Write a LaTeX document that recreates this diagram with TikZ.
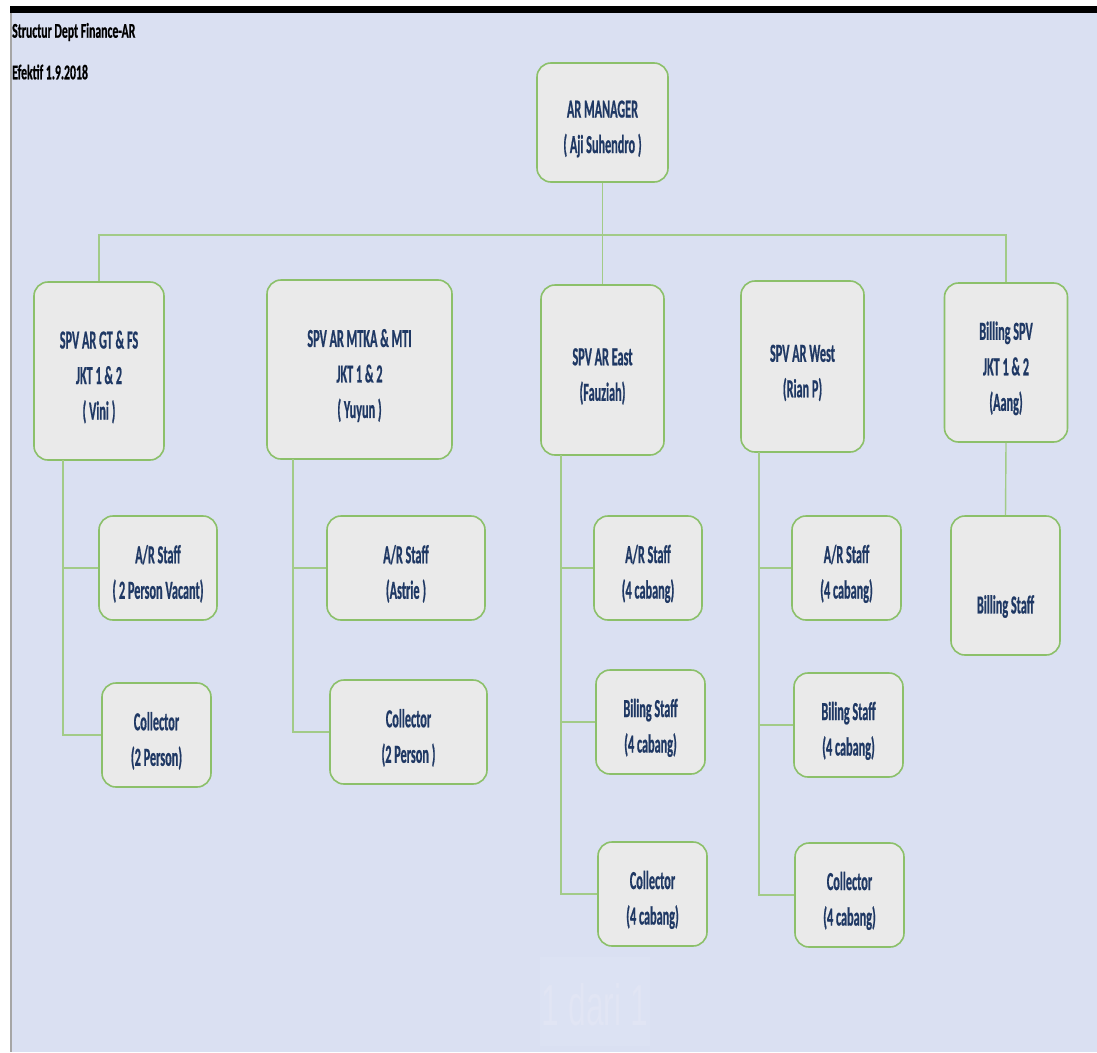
\documentclass[tikz,border=0pt]{standalone}
\usepackage{fontspec}
\newfontfamily\boxfont[FakeStretch=0.47, FakeBold=0.6]{Carlito}
\newfontfamily\titlefont[FakeStretch=0.56, FakeBold=0.6]{Carlito}
\newfontfamily\wmfont[FakeStretch=0.55]{Liberation Sans}
\newcommand\toppad{\rule{0pt}{30pt}}
\definecolor{bgblue}{HTML}{DAE0F2}
\definecolor{boxfill}{HTML}{EAEAEA}
\definecolor{boxedge}{HTML}{8CC06A}
\definecolor{linegreen}{HTML}{A2CB88}
\definecolor{navy}{HTML}{1F3864}
\definecolor{wmbox}{HTML}{DCE2F3}
\definecolor{wmtext}{HTML}{E1E5F4}
\tikzset{
  orgbox/.style={draw=boxedge, line width=1.6pt, fill=boxfill, rounded corners=14pt,
    inner sep=0pt, align=center, text=navy,
    font=\boxfont\bfseries\fontsize{26}{35.5}\selectfont},
  link/.style={draw=linegreen, line width=1.4pt},
  titletext/.style={anchor=west, inner sep=0pt, text=black,
    font=\titlefont\bfseries\fontsize{21}{24}\selectfont}
}
\begin{document}
\begin{tikzpicture}[x=1pt, y=-1pt]
\useasboundingbox (0,0) rectangle (1097,1052);
% page background
\fill[white] (0,0) rectangle (1097,1052);
\fill[bgblue] (11,12) rectangle (1097,1052);
\draw[gray!70, line width=1.2pt] (11,12) -- (11,1052);
\fill[black] (10,6) rectangle (1097,13);
% watermark
\fill[wmbox] (540,957) rectangle (650,1046);
\node[inner sep=0pt, text=wmtext, font=\wmfont\fontsize{58}{60}\selectfont] (wm) at (595,1005) {1 dari 1};
% title
\node[titletext] (t1) at (12,32) {Structur Dept Finance-AR};
\node[titletext] (t2) at (12,72) {Efektif 1.9.2018};
% level 1
\node[orgbox, minimum width=131pt, minimum height=119pt] (mgr) at (602.5,122.5) {\toppad AR MANAGER\\( Aji Suhendro )};
% level 2
\node[orgbox, minimum width=130pt, minimum height=178pt] (s1) at (99,371) {\toppad SPV AR GT \& FS\\JKT 1 \& 2\\( Vini )};
\node[orgbox, minimum width=185pt, minimum height=179pt] (s2) at (359.5,369.5) {\toppad SPV AR MTKA \& MTI\\JKT 1 \& 2\\( Yuyun )};
\node[orgbox, minimum width=123pt, minimum height=170pt] (s3) at (602.5,370) {\toppad SPV AR East\\(Fauziah)};
\node[orgbox, minimum width=123pt, minimum height=171pt] (s4) at (802.5,366.5) {\toppad SPV AR West\\(Rian P)};
\node[orgbox, minimum width=123pt, minimum height=159pt] (s5) at (1006,362.5) {\toppad Billing SPV\\JKT 1 \& 2\\(Aang)};
% level 3
\node[orgbox, minimum width=118pt, minimum height=104pt] (a1) at (158,568) {\toppad A/R Staff\\( 2 Person Vacant)};
\node[orgbox, minimum width=109pt, minimum height=104pt] (c1) at (156.5,735) {\toppad Collector\\(2 Person)};
\node[orgbox, minimum width=158pt, minimum height=104pt] (a2) at (406,568) {\toppad A/R Staff\\(Astrie )};
\node[orgbox, minimum width=157pt, minimum height=104pt] (c2) at (408.5,732) {\toppad Collector\\(2 Person )};
\node[orgbox, minimum width=108pt, minimum height=104pt] (a3) at (648,568) {\toppad A/R Staff\\(4 cabang)};
\node[orgbox, minimum width=109pt, minimum height=104pt] (b3) at (650.5,722) {\toppad Biling Staff\\(4 cabang)};
\node[orgbox, minimum width=109pt, minimum height=104pt] (k3) at (652.5,894) {\toppad Collector\\(4 cabang)};
\node[orgbox, minimum width=109pt, minimum height=104pt] (a4) at (846.5,568) {\toppad A/R Staff\\(4 cabang)};
\node[orgbox, minimum width=109pt, minimum height=104pt] (b4) at (848.5,725) {\toppad Biling Staff\\(4 cabang)};
\node[orgbox, minimum width=109pt, minimum height=104pt] (k4) at (849.5,895) {\toppad Collector\\(4 cabang)};
\node[orgbox, minimum width=109pt, minimum height=139pt] (bs) at (1005.5,585.5) {\strut\\Billing Staff};
% connectors
\coordinate (bus) at (603,235);
\draw[link] (mgr.south) -- (s3.north);
\draw[link] (s1.north) -- (s1.north |- bus) -- (s5.north |- bus) -- (s5.north);
\coordinate (v1) at (63,460);
\coordinate (v2) at (293,459);
\coordinate (v3) at (561,455);
\coordinate (v4) at (759,452);
\draw[link] (v1) |- (c1.west);
\draw[link] (v1 |- a1.west) -- (a1.west);
\draw[link] (v2) |- (c2.west);
\draw[link] (v2 |- a2.west) -- (a2.west);
\draw[link] (v3) |- (k3.west);
\draw[link] (v3 |- a3.west) -- (a3.west);
\draw[link] (v3 |- b3.west) -- (b3.west);
\draw[link] (v4) |- (k4.west);
\draw[link] (v4 |- a4.west) -- (a4.west);
\draw[link] (v4 |- b4.west) -- (b4.west);
\draw[link] (s5.south) -- (bs.north);
\end{tikzpicture}
\end{document}
